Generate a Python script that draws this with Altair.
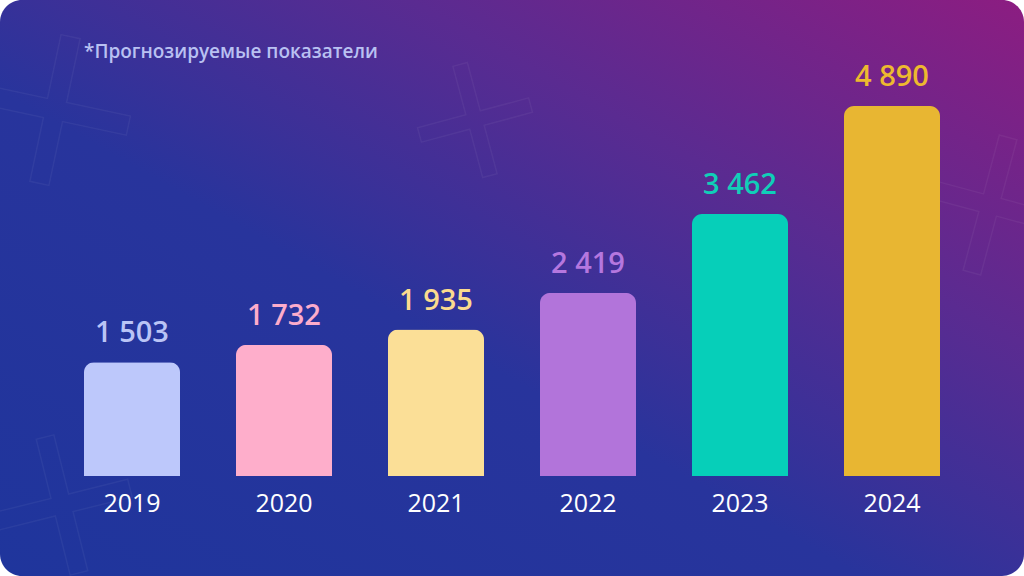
import altair as alt
import pandas as pd

years = ["2019", "2020", "2021", "2022", "2023", "2024"]
values = [1503, 1732, 1935, 2419, 3462, 4890]
value_labels = ["1 503", "1 732", "1 935", "2 419", "3 462", "4 890"]
bar_colors = ["#bdc8fb", "#feaecb", "#fbdf97", "#b274da", "#06cfb9", "#e8b632"]
label_colors = ["#bac4f6", "#fcaccb", "#fbdb8e", "#b577df", "#10cfb8", "#edb92f"]
note = "*Прогнозируемые показатели"

FONT = "Open Sans"

df = pd.DataFrame({
    "year": years,
    "value": values,
    "label": value_labels,
    "bc": bar_colors,
    "lc": label_colors,
})
one = pd.DataFrame({"note": [note]})

# decorative faint crosses (pixel positions relative to plot area origin at 84,106)
deco = pd.DataFrame({
    "px": [55 - 84, 475 - 84, 990 - 84, 62 - 84],
    "py": [110 - 106, 120 - 106, 205 - 106, 505 - 106],
    "ang": [12, 345, 15, 346],
    "sz": [150 ** 2, 115 ** 2, 140 ** 2, 140 ** 2],
})
w = 0.13
plus_path = (
    f"M {-w} -1 L {w} -1 L {w} {-w} L 1 {-w} L 1 {w} L {w} {w} L {w} 1 "
    f"L {-w} 1 L {-w} {w} L -1 {w} L -1 {-w} L {-w} {-w} Z"
)

x_enc = alt.X(
    "year:N",
    sort=years,
    scale=alt.Scale(paddingInner=56 / 152, paddingOuter=0),
    axis=alt.Axis(
        title=None, labelAngle=0, domain=False, ticks=False, grid=False,
        labelColor="#ffffff", labelFontSize=25, labelFont=FONT,
        labelFontWeight=500, labelPadding=15, zindex=2,
    ),
)
y_enc = alt.Y("value:Q", scale=alt.Scale(domain=[0, 4890], nice=False, zero=True), axis=None)

bg = alt.Chart(one).mark_rect(
    cornerRadius=22,
    color=alt.Gradient(
        gradient="linear", x1=0, y1=1, x2=1, y2=0,
        stops=[
            alt.GradientStop(offset=0, color="#1f359c"),
            alt.GradientStop(offset=0.42, color="#28349c"),
            alt.GradientStop(offset=0.7, color="#5a2b91"),
            alt.GradientStop(offset=1, color="#8c1d81"),
        ],
    ),
).encode(x=alt.value(-84), x2=alt.value(940), y=alt.value(-106), y2=alt.value(470))

crosses = alt.Chart(deco).mark_point(
    shape=plus_path, filled=False, stroke="#ffffff", strokeOpacity=0.07, strokeWidth=1.5
).encode(
    x=alt.X("px:Q", scale=None), y=alt.Y("py:Q", scale=None),
    angle=alt.Angle("ang:Q", scale=None), size=alt.Size("sz:Q", scale=None, legend=None),
)

title = alt.Chart(one).mark_text(
    align="left", baseline="middle", fontSize=19, fontWeight=600, font=FONT, color="#b9c1f2"
).encode(x=alt.value(0), y=alt.value(-54), text="note:N")

bars = alt.Chart(df).mark_bar(
    cornerRadiusTopLeft=10, cornerRadiusTopRight=10
).encode(
    x=x_enc, y=y_enc, color=alt.Color("bc:N", scale=None, legend=None)
)

texts = alt.Chart(df).mark_text(
    dy=-20, baseline="alphabetic", fontSize=29, fontWeight=600, font=FONT
).encode(
    x=alt.X("year:N", sort=years), y="value:Q", text="label:N",
    color=alt.Color("lc:N", scale=None, legend=None),
)

chart = alt.layer(bg, crosses, title, bars, texts).properties(
    width=856, height=370,
    padding={"left": 84, "top": 106, "right": 84, "bottom": 100},
    autosize=alt.AutoSizeParams(type="none"),
    background="#ffffff",
).configure_view(stroke=None)

chart.save("out.html", embed_options={"renderer": "svg", "actions": False})
